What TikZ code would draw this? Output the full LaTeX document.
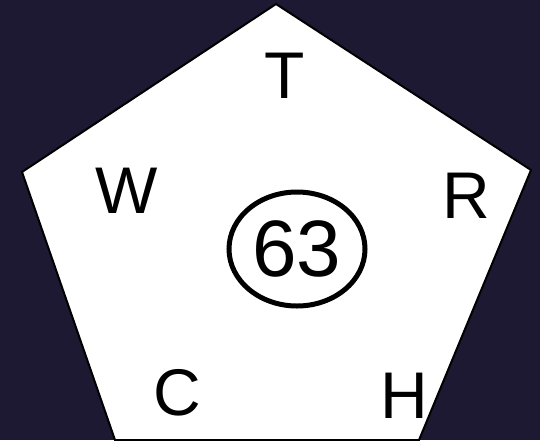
\documentclass[tikz,border=0pt]{standalone}
\usepackage{fontspec}
\usetikzlibrary{shapes.geometric}
\setmainfont{Liberation Sans}
\definecolor{night}{RGB}{29,25,50}
\begin{document}
\begin{tikzpicture}[
  x=1pt, y=-1pt,
  letter/.style={
    inner sep=0pt,
    font=\fontsize{66}{66}\selectfont
  },
  ring/.style={
    draw,
    ellipse,
    line width=5pt,
    inner sep=0pt,
    minimum width=136pt,
    minimum height=114pt,
    font=\fontsize{80}{80}\selectfont
  }
]
\fill[night] (0,0) rectangle (540,440);
\useasboundingbox (0,0) rectangle (540,440);

\coordinate (top) at (276,4);
\coordinate (right) at (531,170);
\coordinate (lowright) at (419,440);
\coordinate (lowleft) at (115,440);
\coordinate (left) at (22,172);
\draw[fill=white, line width=2pt] (top) -- (right) -- (lowright) -- (lowleft) -- (left) -- cycle;

\node[letter] (t) at (285,76) {T};
\node[letter] (w) at (127,191) {W};
\node[letter] (r) at (466,196) {R};
\node[letter] (c) at (177,393) {C};
\node[letter] (h) at (404,396) {H};
\node[ring] (num) at (297,249) {63};
\end{tikzpicture}
\end{document}
